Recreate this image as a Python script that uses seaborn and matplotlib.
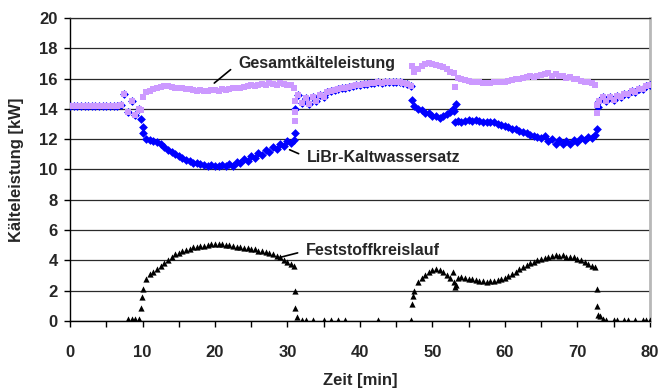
import numpy as np
import pandas as pd
import seaborn as sns
import matplotlib.pyplot as plt
from matplotlib.ticker import MultipleLocator

nan = np.nan

# Messzeitpunkte [min], Raster 0.5 min
zeit = np.arange(0, 80.5, 0.5)

# Gesamtkälteleistung [kW]
gesamt = [
    14.2, 14.2, 14.2, 14.2, 14.2, 14.2, 14.2, 14.2, 14.2, 14.2,          # 0
    14.2, 14.2, 14.2, 14.2, 14.25, 15.0, 13.8, 14.5, 13.6, 14.0,         # 5
    14.8, 15.1, 15.2, 15.3, 15.4, 15.45, 15.5, 15.5, 15.45, 15.4,        # 10
    15.4, 15.35, 15.3, 15.3, 15.25, 15.2, 15.25, 15.2, 15.2, 15.25,      # 15
    15.25, 15.2, 15.3, 15.25, 15.3, 15.35, 15.4, 15.4, 15.45, 15.5,      # 20
    15.55, 15.5, 15.6, 15.65, 15.6, 15.7, 15.65, 15.6, 15.7, 15.65,      # 25
    15.6, 15.55, nan, 14.9, 14.4, 14.7, 14.35, 14.8, 14.5, 14.9,         # 30
    14.8, 15.1, 15.2, 15.25, 15.3, 15.35, 15.4, 15.45, 15.5, 15.55,      # 35
    15.6, 15.65, 15.65, 15.7, 15.7, 15.75, 15.7, 15.75, 15.8, 15.75,     # 40
    15.8, 15.75, 15.7, 15.65, 15.5, 16.4, 16.6, 16.85, 16.95, 17.0,      # 45
    16.95, 16.9, 16.85, 16.75, 16.6, 16.45, 16.35, 16.05, 15.95, 15.9,   # 50
    15.85, 15.8, 15.75, 15.75, 15.7, 15.7, 15.7, 15.75, 15.75, 15.8,     # 55
    15.8, 15.85, 15.9, 15.95, 16.0, 16.05, 16.1, 16.15, 16.1, 16.2,      # 60
    16.25, 16.3, 16.35, 16.2, 16.3, 16.15, 16.2, 16.05, 16.1, 15.95,     # 65
    15.95, 15.85, 15.8, 15.75, 15.7, 15.6, 14.5, 14.75, 14.5, 14.8,      # 70
    14.6, 14.85, 14.75, 15.0, 14.95, 15.15, 15.1, 15.3, 15.3, 15.5,      # 75
    15.6,                                                                # 80
]

# LiBr-Kaltwassersatz [kW]
libr = [
    14.2, 14.2, 14.2, 14.2, 14.2, 14.2, 14.2, 14.2, 14.2, 14.2,
    14.2, 14.2, 14.2, 14.2, 14.25, 15.0, 13.8, 14.5, 13.6, 14.0,
    12.8, 12.0, 11.95, 11.9, 11.8, 11.65, 11.5, 11.3, 11.15, 11.0,
    10.9, 10.75, 10.65, 10.55, 10.45, 10.4, 10.35, 10.3, 10.25, 10.3,
    10.2, 10.2, 10.3, 10.2, 10.35, 10.25, 10.5, 10.4, 10.7, 10.55,
    10.9, 10.75, 11.1, 10.95, 11.3, 11.15, 11.5, 11.35, 11.7, 11.55,
    11.9, 11.75, nan, 14.9, 14.4, 14.7, 14.35, 14.8, 14.5, 14.9,
    14.8, 15.1, 15.2, 15.25, 15.3, 15.35, 15.4, 15.45, 15.5, 15.55,
    15.6, 15.65, 15.65, 15.7, 15.7, 15.75, 15.7, 15.75, 15.8, 15.75,
    15.8, 15.75, 15.7, 15.65, 15.5, 14.2, 14.0, 13.9, 13.75, 13.7,
    13.55, 13.5, 13.4, 13.5, 13.65, 13.8, 13.85, 13.2, 13.15, 13.2,
    13.25, 13.2, 13.25, 13.2, 13.15, 13.1, 13.15, 13.1, 13.0, 12.95,
    12.85, 12.8, 12.7, 12.65, 12.55, 12.5, 12.4, 12.3, 12.2, 12.15,
    12.05, 12.2, 11.9, 12.0, 11.7, 11.95, 11.65, 11.9, 11.7, 11.95,
    11.8, 12.05, 11.95, 12.15, 12.1, 12.25, 14.5, 14.75, 14.5, 14.8,
    14.6, 14.85, 14.75, 15.0, 14.95, 15.15, 15.1, 15.3, 15.3, 15.5,
    15.6,
]

# Feststoffkreislauf [kW]
fest = [
    nan, nan, nan, nan, nan, nan, nan, nan, nan, nan,
    nan, nan, nan, nan, nan, nan, 0.15, 0.1, 0.1, 0.1,
    2.1, 2.8, 3.1, 3.25, 3.45, 3.65, 3.85, 4.05, 4.25, 4.4,
    4.5, 4.6, 4.7, 4.78, 4.85, 4.9, 4.95, 4.98, 5.02, 5.05,
    5.07, 5.05, 5.05, 5.02, 5.0, 4.95, 4.9, 4.88, 4.82, 4.8,
    4.75, 4.72, 4.65, 4.62, 4.55, 4.5, 4.4, 4.3, 4.2, 4.0,
    3.9, 3.75, nan, nan, 0.05, 0.05, nan, 0.05, nan, nan,
    0.05, nan, 0.05, nan, 0.05, nan, 0.05, nan, nan, nan,
    nan, nan, nan, nan, nan, 0.05, nan, nan, nan, nan,
    nan, nan, nan, nan, 0.05, 2.0, 2.55, 2.85, 3.05, 3.2,
    3.35, 3.4, 3.35, 3.25, 3.05, 2.85, 2.55, 2.85, 2.9, 2.85,
    2.8, 2.75, 2.7, 2.65, 2.62, 2.6, 2.62, 2.65, 2.68, 2.75,
    2.85, 2.95, 3.1, 3.25, 3.4, 3.55, 3.7, 3.8, 3.9, 4.0,
    4.1, 4.15, 4.25, 4.3, 4.35, 4.3, 4.35, 4.25, 4.25, 4.2,
    4.1, 4.0, 3.9, 3.75, 3.6, 3.55, nan, 0.1, 0.05, nan,
    0.05, 0.05, nan, 0.05, 0.05, nan, 0.05, nan, 0.05, 0.05,
    0.05,
]

# zusätzliche Messpunkte in den Umschaltphasen (Zeit, Wert)
gesamt_sprung_t = [9.8, 30.9, 31.0, 31.02, 31.05, 47.2, 53.1, 72.7, 72.75]
gesamt_sprung_v = [13.9, 15.4, 14.5, 13.8, 13.2, 16.8, 15.45, 14.25, 13.7]
libr_sprung_t = [9.8, 10.1, 30.9, 31.0, 31.08, 47.25, 52.8, 53.1, 53.3, 72.7, 72.9]
libr_sprung_v = [13.3, 12.4, 11.95, 12.4, 14.0, 14.6, 14.0, 13.15, 14.3, 12.65, 14.15]
fest_sprung_t = [9.85, 9.92, 30.9, 31.05, 31.05, 31.3, 47.2, 47.3, 52.8, 53.1, 53.2,
                 72.7, 72.7, 72.85, 73.2]
fest_sprung_v = [0.85, 1.6, 3.6, 2.0, 0.85, 0.25, 1.1, 1.65, 3.25, 2.25, 2.4,
                 2.1, 1.0, 0.4, 0.35]


def series_frame(values, extra_t, extra_v):
    df = pd.DataFrame({"Zeit": list(zeit) + extra_t, "Wert": list(values) + extra_v})
    return df.dropna()


df_gesamt = series_frame(gesamt, gesamt_sprung_t, gesamt_sprung_v)
df_libr = series_frame(libr, libr_sprung_t, libr_sprung_v)
df_fest = series_frame(fest, fest_sprung_t, fest_sprung_v)

sns.set_style("white")
plt.rcParams["font.family"] = ["Liberation Sans", "DejaVu Sans"]
plt.rcParams["font.weight"] = "bold"

fig = plt.figure(figsize=(6.61, 3.9), dpi=100)
ax = fig.add_axes([0.106, 0.177, 0.877, 0.777])

# Reihenfolge: LiBr unten, Gesamt darüber, Feststoff oben
sns.scatterplot(data=df_libr, x="Zeit", y="Wert", ax=ax, marker="D", s=20,
                color="#0000FF", linewidth=0, legend=False, zorder=3)
sns.scatterplot(data=df_gesamt, x="Zeit", y="Wert", ax=ax, marker="s", s=15,
                color="#CC99FF", linewidth=0, legend=False, zorder=4)
sns.scatterplot(data=df_fest, x="Zeit", y="Wert", ax=ax, marker="^", s=20,
                color="black", linewidth=0, legend=False, zorder=5)

ax.set_xlim(0, 80)
ax.set_ylim(0, 20)
ax.xaxis.set_major_locator(MultipleLocator(10))
ax.xaxis.set_minor_locator(MultipleLocator(5))
ax.yaxis.set_major_locator(MultipleLocator(2))

ax.grid(axis="y", color="#2a2a2a", linewidth=0.9)
ax.set_axisbelow(True)
ax.tick_params(axis="x", which="both", direction="out", length=4, width=1,
               color="black", pad=13, labelsize=12)
ax.tick_params(axis="y", direction="out", length=4, width=1, color="black",
               pad=5, labelsize=12)
ax.tick_params(axis="both", which="both", bottom=True, left=True)

for side in ["left", "bottom"]:
    ax.spines[side].set_color("black")
    ax.spines[side].set_linewidth(1)
ax.spines["top"].set_color("#2a2a2a")
ax.spines["top"].set_linewidth(0.9)
ax.spines["right"].set_color("#b8b8b8")
ax.spines["right"].set_linewidth(2)

ax.set_xlabel("Zeit [min]", fontsize=12, fontweight="bold", va="center")
ax.set_ylabel("Kälteleistung [kW]", fontsize=12, fontweight="bold", va="center")
ax.xaxis.set_label_coords(0.5, -0.195)
ax.yaxis.set_label_coords(-0.092, 0.5)

# Beschriftungen mit Hinweislinien
labels = [
    ("Gesamtkälteleistung", (19.9, 15.7), (23.2, 17.0)),
    ("LiBr-Kaltwassersatz", (30.3, 11.3), (32.7, 10.8)),
    ("Feststoffkreislauf", (29.0, 4.2), (32.6, 4.64)),
]
for txt, xy, xytext in labels:
    ax.annotate(txt, xy=xy, xytext=xytext, fontsize=11.5, fontweight="bold",
                ha="left", va="center",
                arrowprops=dict(arrowstyle="-", color="black", lw=1.2,
                                relpos=(0, 0.5), shrinkA=4, shrinkB=0))

fig.savefig("out.png", dpi=100)
